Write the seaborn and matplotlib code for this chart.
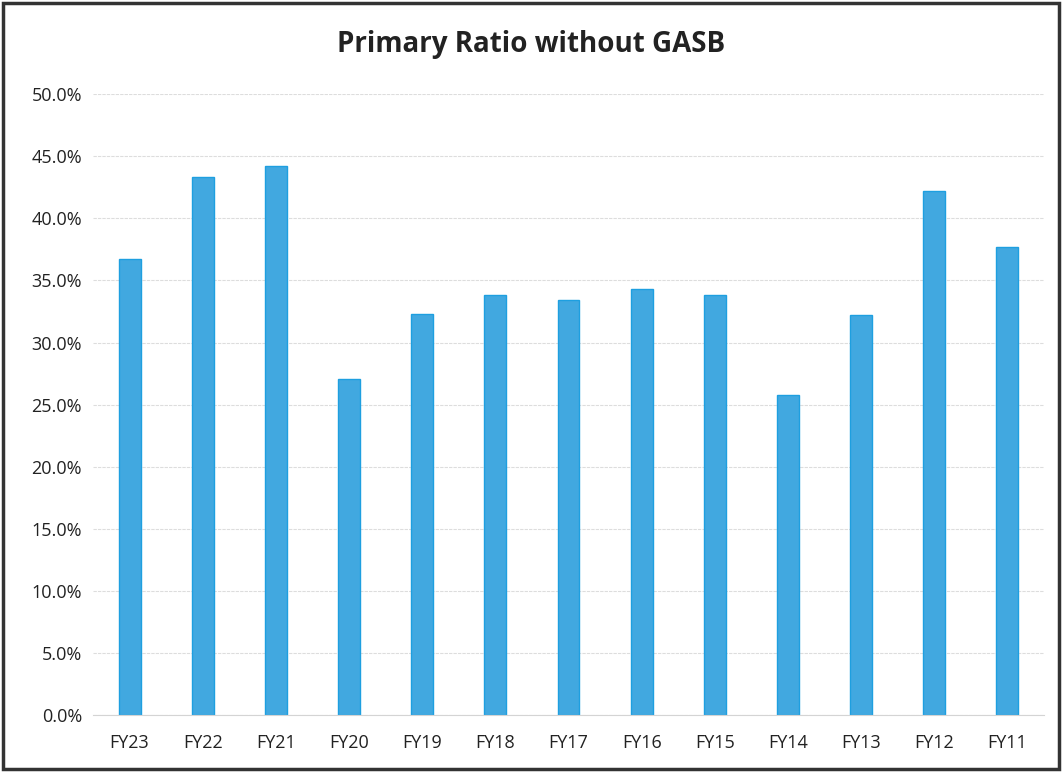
"""Primary Ratio without GASB - bar chart recreation"""

import matplotlib
matplotlib.use("Agg")
import matplotlib.pyplot as plt
from matplotlib.patches import Rectangle
from matplotlib.ticker import FuncFormatter
import pandas as pd
import seaborn as sns

# Data
years = ['FY23', 'FY22', 'FY21', 'FY20', 'FY19', 'FY18', 'FY17',
         'FY16', 'FY15', 'FY14', 'FY13', 'FY12', 'FY11']
ratios = [36.7, 43.3, 44.2, 27.1, 32.3, 33.8, 33.4,
          34.3, 33.8, 25.8, 32.2, 42.2, 37.7]
y_ticks = [0, 5, 10, 15, 20, 25, 30, 35, 40, 45, 50]

df = pd.DataFrame({'year': years, 'ratio': ratios})

sns.set_theme(style='white')
plt.rcParams['font.family'] = ['Open Sans', 'DejaVu Sans']

fig = plt.figure(figsize=(10.62, 7.72), dpi=100)
ax = fig.add_axes([0.0876, 0.0738, 0.8954, 0.8042])

sns.barplot(data=df, x='year', y='ratio', ax=ax, color='#41A8E0',
            edgecolor='#1E9FE0', linewidth=1, width=0.3, saturation=1)

ax.set_ylim(0, 50)
ax.set_yticks(y_ticks)
ax.yaxis.set_major_formatter(FuncFormatter(lambda v, _: f'{v:.1f}%'))
ax.set_xlabel('')
ax.set_ylabel('')
ax.tick_params(axis='both', length=0, labelsize=13, colors='#222222')
ax.tick_params(axis='x', pad=14)
ax.tick_params(axis='y', pad=8)

# faint gridlines
ax.yaxis.grid(True, color='#dddddd', linewidth=0.8, linestyle=(0, (3, 1)))
ax.set_axisbelow(True)
for side in ['top', 'right', 'left']:
    ax.spines[side].set_visible(False)
ax.spines['bottom'].set_color('#d4d4d4')
ax.spines['bottom'].set_linewidth(0.8)

fig.text(0.5, 0.943, 'Primary Ratio without GASB', ha='center', va='center',
         fontsize=20, fontweight='bold', color='#222222')

# page border
fig.patches.append(Rectangle((0.003, 0.004), 0.994, 0.992, transform=fig.transFigure,
                             fill=False, edgecolor='#333333', linewidth=2.5))

fig.savefig('out.png', dpi=100)
